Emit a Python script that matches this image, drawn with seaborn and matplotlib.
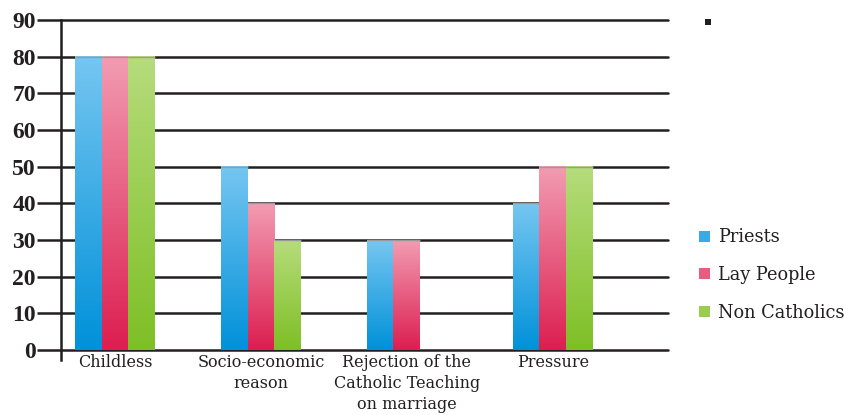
import numpy as np
import pandas as pd
import matplotlib
matplotlib.use("Agg")
import matplotlib.pyplot as plt
from matplotlib.colors import LinearSegmentedColormap
from matplotlib.patches import Patch, Rectangle
import seaborn as sns

categories = ["Childless", "Socio-economic\nreason",
              "Rejection of the\nCatholic Teaching\non marriage", "Pressure"]
groups = ["Priests", "Lay People", "Non Catholics"]
priests = [80, 50, 30, 40]
lay_people = [80, 40, 30, 50]
non_catholics = [80, 30, 0, 50]
y_ticks = [0, 10, 20, 30, 40, 50, 60, 70, 80, 90]

# light (top) -> dark (bottom) colour for each series
top_colors = ["#76C6F1", "#F29CB2", "#B6DC7C"]
bottom_colors = ["#0091D9", "#DC1E50", "#7EBF25"]
mid_colors = ["#3AAAE6", "#E65D80", "#9ACD4F"]

df = pd.DataFrame({
    "category": categories * 3,
    "group": [g for g in groups for _ in categories],
    "value": priests + lay_people + non_catholics,
})

sns.set_theme(style="white")
plt.rcParams["font.family"] = ["DejaVu Serif"]

fig = plt.figure(figsize=(8.45, 4.15), dpi=100)
ax = fig.add_axes([61 / 845, 55 / 415, 607 / 845, 340 / 415])

sns.barplot(data=df, x="category", y="value", hue="group", hue_order=groups,
            order=categories, palette=mid_colors, width=0.55, gap=0,
            legend=False, ax=ax, zorder=3, linewidth=0)

grad = np.linspace(0, 1, 256).reshape(-1, 1)


def gradient_cmap(i):
    return LinearSegmentedColormap.from_list(
        f"g{i}", [bottom_colors[i], top_colors[i]])


# replace flat fills with vertical gradients (per bar)
for gi, container in enumerate(ax.containers):
    cmap = gradient_cmap(gi)
    for bar in container:
        h = bar.get_height()
        bar.set_facecolor("none")
        if not np.isfinite(h) or h <= 0:
            continue
        x0 = bar.get_x()
        w = bar.get_width()
        ax.imshow(grad, cmap=cmap, origin="lower", aspect="auto",
                  extent=[x0, x0 + w, 0, h], zorder=3, interpolation="bilinear")
        ax.plot([x0, x0 + w], [h, h], color="#9A9A9A", lw=1.0, zorder=3.5,
                solid_capstyle="butt")

ax.set_xlim(-0.37, 3.79)
ax.set_ylim(-2.73, 90)

# horizontal rules at each tick, reaching past the left axis
for t in y_ticks:
    ax.axhline(t, color="#231F20", lw=1.8, zorder=1, clip_on=False)

ax.set_yticks(y_ticks)
ax.set_yticklabels([str(t) for t in y_ticks], family="Liberation Serif",
                   fontweight="bold", fontsize=17, color="#231F20")
ax.tick_params(axis="y", length=17, width=1.8, color="#231F20", pad=1,
               direction="out", left=True)
ax.tick_params(axis="x", length=0, pad=-4)
for lbl in ax.get_xticklabels():
    lbl.set_fontsize(11.5)
    lbl.set_color("#231F20")
    lbl.set_linespacing(1.28)

for side in ["top", "right", "bottom"]:
    ax.spines[side].set_visible(False)
ax.spines["left"].set_color("#231F20")
ax.spines["left"].set_linewidth(1.8)
ax.set_xlabel("")
ax.set_ylabel("")
ax.grid(False)

handles = [Patch(facecolor=c, edgecolor="none") for c in mid_colors]
fig.legend(handles, groups, loc="center left",
           bbox_to_anchor=(690 / 845, (415 - 275) / 415),
           frameon=False, fontsize=12.8, handlelength=0.6, handleheight=0.6,
           handletextpad=0.45, labelspacing=1.1, borderpad=0,
           labelcolor="#231F20")

# small marker at the top right
fig.patches.append(Rectangle((705 / 845, (415 - 25) / 415), 6 / 845, 6 / 415,
                             transform=fig.transFigure, facecolor="#231F20",
                             edgecolor="none"))

fig.savefig("out.png", dpi=100)
